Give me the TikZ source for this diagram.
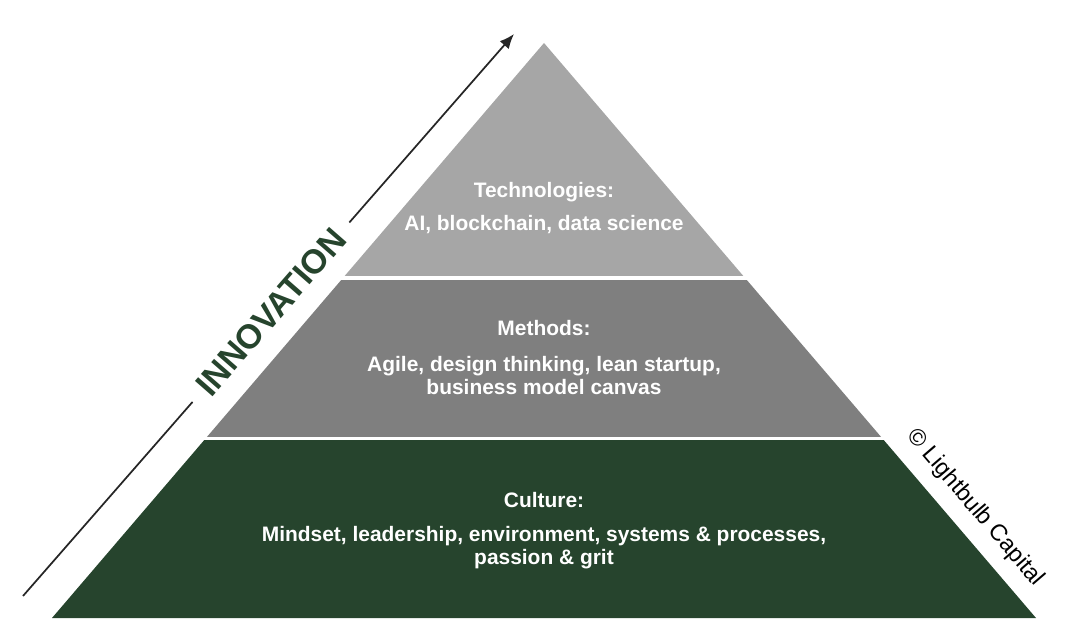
\documentclass[tikz,border=0pt]{standalone}
\usepackage{fontspec}
\setmainfont{Liberation Sans}
\usepackage{xcolor}
\usetikzlibrary{arrows.meta,positioning,calc}

\definecolor{tiertop}{HTML}{A6A6A6}
\definecolor{tiermid}{HTML}{7F7F7F}
\definecolor{tierbase}{HTML}{26442D}
\definecolor{arrowgray}{HTML}{262626}

\begin{document}
\begin{tikzpicture}[
  x=0.75pt, y=-0.75pt,
  head/.style={text=white, font=\fontsize{15.7}{17.25}\selectfont\bfseries},
  body/.style={text=white, font=\fontsize{15.7}{17.25}\selectfont\bfseries, align=center},
  arr/.style={-{Latex[length=11pt,width=9pt]}, line width=1.3pt, draw=arrowgray},
  innov/.style={text=tierbase, font=\fontsize{25.5}{25.5}\selectfont\bfseries,
    rotate=48.85, inner sep=11pt},
  credit/.style={font=\fontsize{17.5}{17.5}\selectfont, rotate=-49.4, inner sep=0pt},
]
  \useasboundingbox (0,0) rectangle (1071,623);

  \coordinate (apex) at (544,43);
  \coordinate (bl) at (52,618);
  \coordinate (br) at (1036,618);

  % three tiers, white gaps between them
  \foreach \ya/\yb/\col in {0/276/tiertop, 281/437/tiermid, 441/623/tierbase}{
    \begin{scope}
      \clip (0,\ya) rectangle (1071,\yb);
      \fill[\col] (apex) -- (bl) -- (br) -- cycle;
    \end{scope}
  }

  \node[head] (tech) at (544,192) {Technologies:};
  \node[body] (techtxt) at (544,224.5) {AI, blockchain, data science};
  \node[head] (meth) at (544,328) {Methods:};
  \node[body] (methtxt) at (544,376)
    {Agile, design thinking, lean startup,\\business model canvas};
  \node[head] (cult) at (544,500) {Culture:};
  \node[body] (culttxt) at (544,548)
    {Mindset, leadership, environment, systems \& processes,\\passion \& grit};

  % innovation arrow
  \coordinate (tail) at (23,596);
  \coordinate (tip) at (514,34);
  \node[innov] (innovation) at ($(tail)!0.505!(tip)$) {INNOVATION};
  \draw[line width=1.3pt, draw=arrowgray] (tail) -- (innovation.west);
  \draw[arr] (innovation.east) -- (tip);

  \node[credit] (copy) at (975,508) {\textcopyright\ Lightbulb Capital};
\end{tikzpicture}
\end{document}
